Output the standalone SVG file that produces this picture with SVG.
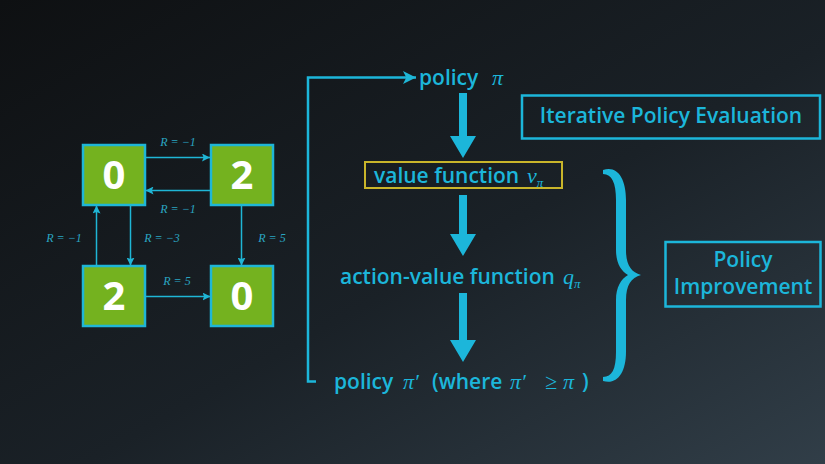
<svg xmlns="http://www.w3.org/2000/svg" width="825" height="464" viewBox="0 0 825 464">
<defs>
<linearGradient id="bg" x1="0" y1="0" x2="1" y2="1">
<stop offset="0" stop-color="#0e1012"/>
<stop offset="0.55" stop-color="#1a2127"/>
<stop offset="1" stop-color="#313e48"/>
</linearGradient>
<marker id="ah" viewBox="0 0 10 10" refX="10" refY="5" markerWidth="8" markerHeight="8" markerUnits="userSpaceOnUse" orient="auto">
<path d="M0,0 L10,5 L0,10 L2,5 Z" fill="#1fb6d6"/>
</marker>
<marker id="ah2" viewBox="0 0 10 10" refX="10" refY="5" markerWidth="13" markerHeight="13" markerUnits="userSpaceOnUse" orient="auto">
<path d="M0,0 L10,5 L0,10 L2.5,5 Z" fill="#1fb6d6"/>
</marker>
</defs>
<style>
.sq{fill:#74b21f;stroke:#1fb6d6;stroke-width:2.5}
.dg{font-family:"Open Sans","DejaVu Sans",sans-serif;font-weight:700;font-size:40px;fill:#ffffff;text-anchor:middle}
.ln{stroke:#1fb6d6;stroke-width:1.5;fill:none}
.rl{font-family:"Liberation Serif","DejaVu Serif",serif;font-style:italic;font-size:12px;fill:#2aa6c2;text-anchor:middle}
.t{font-family:"Open Sans","DejaVu Sans",sans-serif;font-weight:600;font-size:21px;fill:#1cb6da}
.m{font-family:"Liberation Serif","DejaVu Serif",serif;font-style:italic;font-weight:400;font-size:22px;fill:#1cb6da}
.ms{font-family:"Liberation Serif","DejaVu Serif",serif;font-style:italic;font-weight:400;font-size:13px;fill:#1cb6da}
.bx{fill:none;stroke:#1cb6da;stroke-width:2.5}
.thick{fill:#1cb6da}
</style>
<rect width="825" height="464" fill="url(#bg)"/>

<g id="connectors">
<line class="ln" x1="145" y1="157.5" x2="210" y2="157.5" marker-end="url(#ah)"/>
<line class="ln" x1="210" y1="190.5" x2="145.5" y2="190.5" marker-end="url(#ah)"/>
<line class="ln" x1="96.5" y1="266" x2="96.5" y2="205.5" marker-end="url(#ah)"/>
<line class="ln" x1="130.5" y1="205" x2="130.5" y2="265.5" marker-end="url(#ah)"/>
<line class="ln" x1="241.5" y1="205" x2="241.5" y2="265.5" marker-end="url(#ah)"/>
<line class="ln" x1="145" y1="296.5" x2="210.5" y2="296.5" marker-end="url(#ah)"/>
<text class="rl" x="178" y="146">R = −1</text>
<text class="rl" x="178" y="213">R = −1</text>
<text class="rl" x="64" y="242">R = −1</text>
<text class="rl" x="162" y="242">R = −3</text>
<text class="rl" x="272" y="242">R = 5</text>
<text class="rl" x="177" y="285">R = 5</text>

<path d="M316,381.5 L308,381.5 L308,77.5 L416,77.5" stroke="#1cb6da" stroke-width="2.5" fill="none" marker-end="url(#ah2)"/>
<path class="thick" d="M459,93 L467,93 L467,136 L476,136 L463,158 L450,136 L459,136 Z"/>
<path class="thick" d="M459,195 L467,195 L467,234 L476,234 L463,256 L450,234 L459,234 Z"/>
<path class="thick" d="M459,293 L467,293 L467,340 L476,340 L463,362 L450,340 L459,340 Z"/>
</g>

<g id="s00"><rect class="sq" x="83" y="145" width="62" height="60"/><text class="dg" x="114" y="189">0</text></g>
<g id="s01"><rect class="sq" x="211" y="145" width="62" height="60"/><text class="dg" x="242" y="189">2</text></g>
<g id="s10"><rect class="sq" x="83" y="266" width="62" height="60"/><text class="dg" x="114" y="310">2</text></g>
<g id="s11"><rect class="sq" x="211" y="266" width="62" height="60"/><text class="dg" x="242" y="310">0</text></g>

<g id="policy"><text class="t" x="419" y="85">policy</text><text class="m" x="492" y="85">π</text></g>

<g id="value"><rect x="365" y="162" width="197" height="26" fill="none" stroke="#c9b52a" stroke-width="2"/>
<text class="t" x="374" y="183">value function <tspan class="m" x="527">v</tspan><tspan class="ms" dy="4">π</tspan></text></g>

<g id="actionvalue"><text class="t" x="340" y="284">action-value function <tspan class="m" x="563">q</tspan><tspan class="ms" dy="4">π</tspan></text></g>

<g id="newpolicy"><text class="t" x="334" y="389">policy <tspan class="m" x="403">π′</tspan><tspan x="432">(where</tspan><tspan class="m" x="510">π′</tspan><tspan class="m" x="545">≥</tspan><tspan class="m" x="563">π</tspan><tspan x="582">)</tspan></text></g>

<g id="brace"><path class="thick" d="M603,170 C617,165 626,178 626,200 L626,250 C626,265 631,272 641,275 C631,278 626,285 626,300 L626,352 C626,373 617,385 603,381 L603,377 C612,377 616,369 616,352 L616,300 C616,287 621,279 628,275 C621,271 616,263 616,250 L616,200 C616,183 612,174 603,174 Z"/></g>

<g id="ipe"><rect class="bx" x="522" y="95.5" width="298" height="43"/>
<text class="t" x="671" y="123" text-anchor="middle">Iterative Policy Evaluation</text></g>

<g id="pi"><rect class="bx" x="665.5" y="242" width="155" height="64.5"/>
<text class="t" x="743" y="267" text-anchor="middle">Policy</text>
<text class="t" x="743" y="294" text-anchor="middle">Improvement</text></g>
</svg>
